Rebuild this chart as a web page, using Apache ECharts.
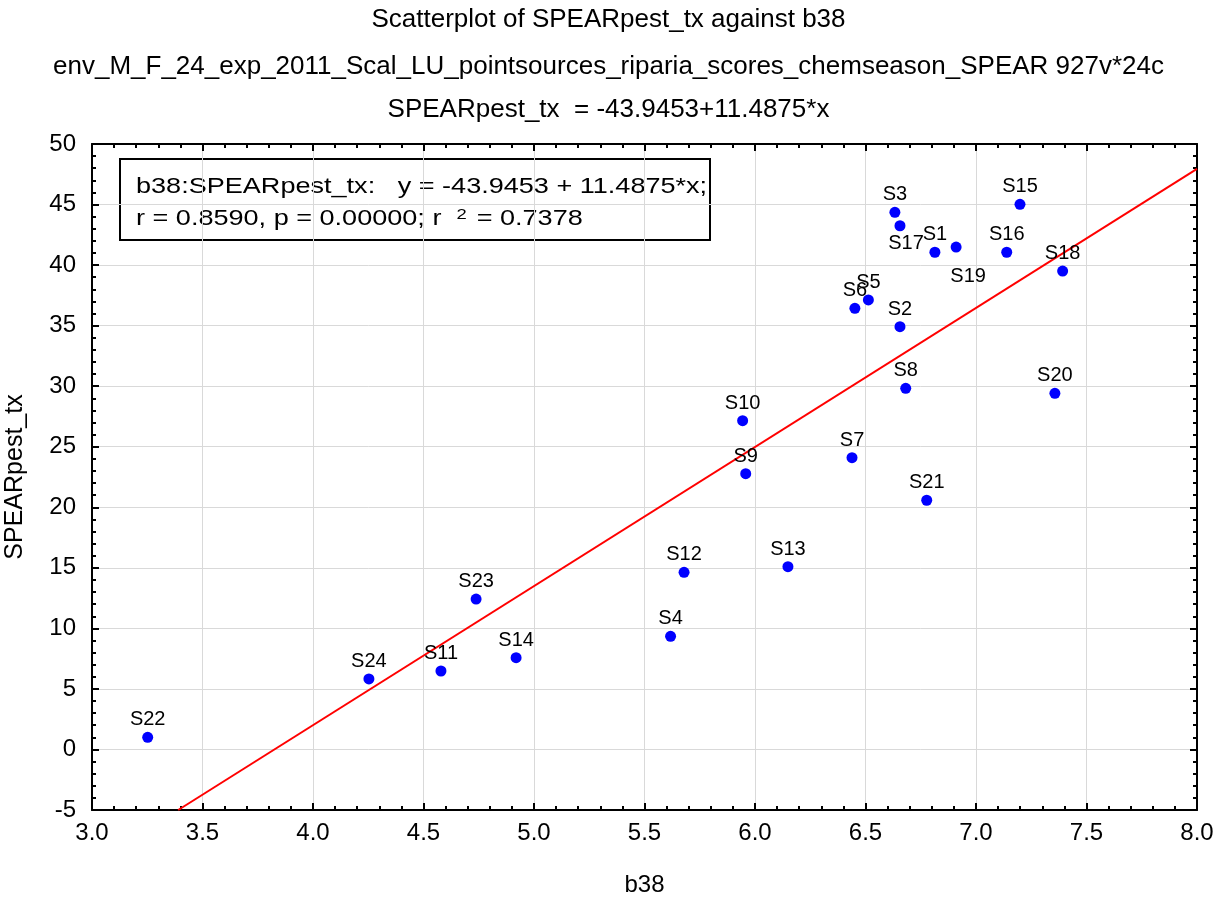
<!DOCTYPE html>
<html>
<head>
<meta charset="utf-8">
<script src="https://cdn.jsdelivr.net/npm/echarts@6/dist/echarts.min.js"></script>
<style>html,body{margin:0;padding:0;background:#fff;}#c{width:1217px;height:919px;}</style>
</head>
<body>
<div id="c"></div>
<script>
var names = ['S1','S2','S3','S4','S5','S6','S7','S8','S9','S10','S11','S12','S13','S14','S15','S16','S17','S18','S19','S20','S21','S22','S23','S24'];
var b38 = [6.814,6.656,6.633,5.618,6.513,6.452,6.439,6.682,5.958,5.944,4.579,5.679,6.149,4.919,7.199,7.139,6.656,7.392,6.910,7.357,6.777,3.252,4.738,4.253];
var spear = [41.06,34.91,44.36,9.34,37.12,36.43,24.10,29.82,22.77,27.15,6.48,14.63,15.09,7.58,45.02,41.06,43.25,39.51,41.49,29.41,20.58,1.00,12.42,5.82];
var fitX = [3.39, 8.0];
var fitY = [-5.0, 47.95];
var titles = ['Scatterplot of SPEARpest_tx against b38',
  'env_M_F_24_exp_2011_Scal_LU_pointsources_riparia_scores_chemseason_SPEAR 927v*24c',
  'SPEARpest_tx  = -43.9453+11.4875*x'];
var boxLines = ['b38:SPEARpest_tx:   y = -43.9453 + 11.4875*x;',
  'r = 0.8590, p = 0.00000; r  ', '2', ' = 0.7378'];

var FONT = 'Liberation Sans, Arial, sans-serif';
var labelOverrides = {
  'S17': {position: 'bottom', distance: 2, offset: [6, 0]},
  'S19': {position: 'bottom', distance: 2, offset: [12, 12]}
};
var pts = names.map(function (n, i) {
  var d = {name: n, value: [b38[i], spear[i]]};
  if (labelOverrides[n]) d.label = labelOverrides[n];
  return d;
});
var fitData = fitX.map(function (x, i) { return [x, fitY[i]]; });

var chart = echarts.init(document.getElementById('c'), null, {renderer: 'canvas'});
var axisCommon = {
  axisLine: {show: true, onZero: false, lineStyle: {color: '#000', width: 2}},
  axisTick: {show: true, inside: true, length: 7, lineStyle: {color: '#000', width: 2}},
  minorTick: {show: true, splitNumber: 5, length: 4, lineStyle: {color: '#000', width: 2}},
  splitLine: {show: true, lineStyle: {color: '#d9d9d9', width: 1}}
};
var titleStyle = {fontFamily: FONT, fontSize: 26, fontWeight: 'normal', color: '#000'};
chart.setOption({
  animation: false,
  backgroundColor: '#fff',
  textStyle: {fontFamily: FONT},
  title: [
    {text: titles[0], left: 'center', top: 2, textStyle: titleStyle},
    {text: titles[1], left: 'center', top: 49, textStyle: titleStyle},
    {text: titles[2], left: 'center', top: 92, textStyle: titleStyle}
  ],
  grid: {left: 92, right: 20, top: 144, bottom: 109, containLabel: false, outerBoundsMode: 'none'},
  xAxis: [
    Object.assign({}, axisCommon, {
      type: 'value', min: 3, max: 8, interval: 0.5, position: 'bottom',
      name: 'b38', nameLocation: 'middle', nameGap: 63,
      nameTextStyle: {fontFamily: FONT, fontSize: 24, color: '#000'},
      axisLabel: {color: '#000', fontSize: 24, fontFamily: FONT, margin: 11,
        formatter: function (v) { return v.toFixed(1); }}
    }),
    Object.assign({}, axisCommon, {
      type: 'value', min: 3, max: 8, interval: 0.5, position: 'top',
      axisLabel: {show: false}, splitLine: {show: false}
    })
  ],
  yAxis: [
    Object.assign({}, axisCommon, {
      type: 'value', min: -5, max: 50, interval: 5, position: 'left',
      name: 'SPEARpest_tx', nameLocation: 'middle', nameGap: 64,
      nameTextStyle: {fontFamily: FONT, fontSize: 25, color: '#000'},
      axisLabel: {color: '#000', fontSize: 24, fontFamily: FONT, margin: 16}
    }),
    Object.assign({}, axisCommon, {
      type: 'value', min: -5, max: 50, interval: 5, position: 'right',
      axisLabel: {show: false}, splitLine: {show: false}
    })
  ],
  series: [
    {
      type: 'line', data: fitData, showSymbol: false, symbol: 'none',
      lineStyle: {color: '#ff0000', width: 2}, z: 3, silent: true, clip: false
    },
    {
      type: 'scatter', data: pts, symbolSize: 11,
      itemStyle: {color: '#0000ff', opacity: 1}, z: 4,
      label: {show: true, position: 'top', distance: 2, formatter: '{b}',
        color: '#000', fontSize: 20, fontFamily: FONT}
    }
  ],
  graphic: [
    {
      type: 'group', left: 119, top: 158, z: 10,
      children: [
        {type: 'rect', shape: {x: 0, y: 0, width: 590, height: 81},
          style: {fill: '#fff', stroke: '#000', lineWidth: 2}},
        {type: 'text', x: 16, y: 28, scaleX: 1.23,
          style: {text: boxLines[0], fill: '#000',
            font: '22px ' + FONT, verticalAlign: 'middle'}},
        {type: 'text', x: 16, y: 60, scaleX: 1.23,
          style: {text: '{n|' + boxLines[1] + '}{s|' + boxLines[2] + '}{n|' + boxLines[3] + '}', fill: '#000',
            verticalAlign: 'middle',
            rich: {
              n: {fontSize: 22, fontFamily: FONT, color: '#000'},
              s: {fontSize: 15, fontFamily: FONT, color: '#000', verticalAlign: 'top', padding: [0, 2, 9, 0]}
            }}}
      ]
    }
  ]
});
</script>
</body>
</html>
